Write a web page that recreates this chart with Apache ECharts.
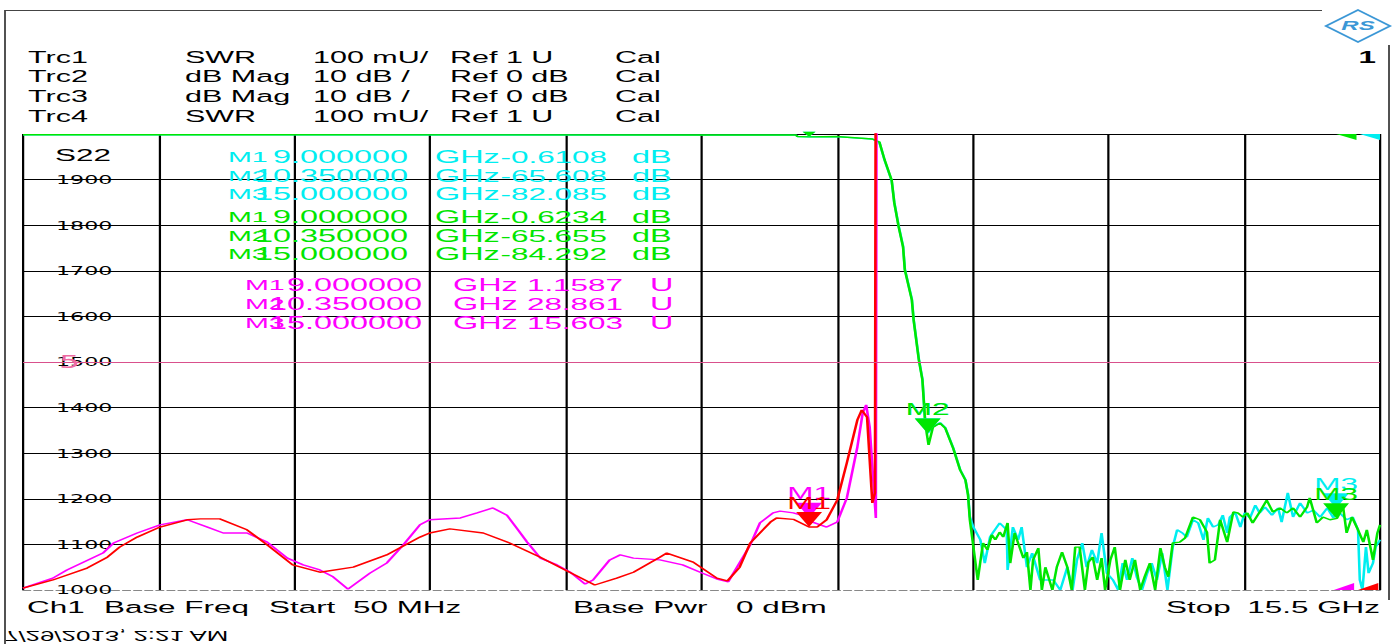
<!DOCTYPE html>
<html>
<head>
<meta charset="utf-8">
<script src="https://cdn.jsdelivr.net/npm/echarts@6/dist/echarts.min.js"></script>
<style>
  html, body { margin: 0; padding: 0; background: #fff; overflow: hidden; }
  /* the analyzer screenshot is stretched sideways, so the chart is drawn narrow and scaled */
  #chart { width: 754px; height: 644px; transform: scaleX(1.84881); transform-origin: 0 0; }
</style>
</head>
<body>
<div id="chart"></div>
<script>
// sweep
var START = 0.05;   // GHz
var STOP = 15.5;    // GHz

// Trc1 (red) SWR
var redFreq = [0.05, 0.39, 0.78, 1.01, 1.15, 1.35, 1.61, 1.92, 2.07, 2.29, 2.60, 2.83, 3.12, 3.43, 3.81, 4.19,
  4.57, 4.68, 4.91, 5.29, 5.59, 5.94, 6.20, 6.56, 6.81, 7.00, 7.30, 7.38, 7.68, 7.95, 8.07, 8.21, 8.33, 8.56,
  8.63, 8.82, 9.00, 9.09, 9.20, 9.32, 9.43, 9.55, 9.60, 9.66, 9.72, 9.75, 9.77, 9.85, 10.35, 11.5, 13.0, 15.0, 15.5];
var redSwr = [1.004, 1.022, 1.048, 1.072, 1.094, 1.116, 1.138, 1.154, 1.156, 1.156, 1.132, 1.099, 1.055, 1.039, 1.050, 1.077,
  1.116, 1.125, 1.134, 1.125, 1.103, 1.072, 1.046, 1.011, 1.026, 1.039, 1.072, 1.081, 1.061, 1.026, 1.020, 1.050, 1.103, 1.149,
  1.158, 1.155, 1.138, 1.138, 1.154, 1.197, 1.279, 1.373, 1.395, 1.379, 1.191, 1.213, 3.5, 12, 27.5, 21, 18, 16.2, 15.5];

// Trc4 (magenta) SWR
var magFreq = [0.05, 0.39, 0.55, 0.96, 1.08, 1.35, 1.61, 1.92, 2.15, 2.33, 2.60, 2.83, 3.06, 3.24, 3.43, 3.58, 3.75,
  4.00, 4.19, 4.38, 4.57, 4.68, 5.03, 5.22, 5.40, 5.56, 5.67, 5.79, 5.94, 6.13, 6.28, 6.45, 6.54, 6.73, 6.85, 7.00,
  7.30, 7.56, 7.76, 7.95, 8.08, 8.33, 8.44, 8.59, 8.67, 8.82, 9.00, 9.04, 9.20, 9.32, 9.43, 9.55, 9.61, 9.65, 9.69,
  9.76, 9.78, 9.85, 10.35, 11.5, 13.0, 15.0, 15.5];
var magSwr = [1.004, 1.026, 1.044, 1.081, 1.103, 1.125, 1.143, 1.154, 1.138, 1.125, 1.125, 1.105, 1.070, 1.055, 1.044, 1.029, 1.002,
  1.037, 1.059, 1.099, 1.143, 1.154, 1.158, 1.169, 1.180, 1.164, 1.136, 1.105, 1.070, 1.055, 1.039, 1.013, 1.022, 1.066, 1.077, 1.070,
  1.066, 1.055, 1.039, 1.024, 1.018, 1.099, 1.147, 1.169, 1.173, 1.169, 1.159, 1.149, 1.138, 1.149, 1.202, 1.314, 1.388, 1.406, 1.357,
  1.158, 3.5, 14, 28.861, 21, 17.5, 15.603, 15.2];

// Trc3 (green) dB Mag
var greenFreq = [0.05, 7.76, 8.85, 8.87, 9.00, 9.31, 9.56, 9.72, 9.80, 9.86, 9.94, 9.97, 10.02, 10.07, 10.09, 10.17, 10.19,
  10.25, 10.29, 10.30, 10.32, 10.34, 10.36, 10.41, 10.49, 10.55, 10.64, 10.72, 10.78, 10.81, 10.83, 10.92, 10.98, 11.03,
  11.08, 11.12, 11.17, 11.21, 11.26, 11.29, 11.34, 11.44, 11.48, 11.52, 11.55, 11.61, 11.65, 11.69, 11.77, 11.82, 11.88,
  11.94, 11.99, 12.03, 12.08, 12.14, 12.18, 12.23, 12.28, 12.33, 12.37, 12.43, 12.48, 12.54, 12.60, 12.65, 12.71, 12.77,
  12.82, 12.88, 12.94, 13.00, 13.05, 13.09, 13.14, 13.22, 13.28, 13.37, 13.45, 13.53, 13.56, 13.62, 13.68, 13.76, 13.83,
  13.88, 13.94, 13.99, 14.05, 14.13, 14.21, 14.28, 14.36, 14.44, 14.51, 14.59, 14.67, 14.70, 14.78, 14.85, 14.93, 15.01,
  15.08, 15.12, 15.18, 15.24, 15.31, 15.35, 15.42, 15.47, 15.5];
var greenDb = [-0.15, -0.22, -0.22, -0.55, -0.62, -0.55, -0.88, -1.1, -1.75, -5.7, -10.1, -15.1, -20.4, -24.8, -29.8, -36.4, -40.8,
  -49.6, -53.9, -56.8, -62.7, -65.7, -68.2, -64.3, -63.4, -64.5, -68.9, -73.7, -75.9, -79.2, -84.6, -97.8, -89.7, -91.2,
  -87.9, -89.0, -87.3, -88.4, -85.3, -94.1, -87.5, -93.0, -91.7, -100, -93.4, -90.8, -100, -95.0, -100, -95.0, -91.7,
  -95.0, -100, -90.6, -90.6, -100, -93.9, -92.8, -97.8, -93.0, -100, -93.4, -90.6, -100, -93.4, -97.8, -93.4, -100,
  -97.1, -94.1, -100, -90.8, -95.0, -97.1, -89.7, -89.5, -88.6, -84.0, -84.6, -87.3, -94.1, -93.4, -84.6, -89.5, -82.9,
  -83.1, -84.0, -83.1, -85.3, -82.9, -80.3, -82.9, -82.0, -83.1, -82.0, -84.0, -81.8, -79.8, -85.3, -84.0, -84.6, -84.3,
  -81.8, -87.5, -84.0, -86.4, -89.5, -86.8, -93.4, -87.5, -85.7];

// Trc2 (cyan) dB Mag
var cyanFreq = [0.05, 7.76, 8.85, 8.87, 9.00, 9.31, 9.56, 9.72, 9.80, 9.86, 9.94, 9.97, 10.02, 10.07, 10.09, 10.17, 10.19,
  10.25, 10.29, 10.30, 10.32, 10.35, 10.41, 10.49, 10.55, 10.64, 10.72, 10.78, 10.81, 10.83, 10.87, 10.95, 11.00, 11.06,
  11.09, 11.17, 11.25, 11.26, 11.32, 11.38, 11.42, 11.48, 11.54, 11.63, 11.71, 11.78, 11.86, 11.94, 12.00, 12.05, 12.11,
  12.16, 12.22, 12.28, 12.33, 12.39, 12.46, 12.52, 12.57, 12.62, 12.68, 12.73, 12.79, 12.85, 12.90, 12.96, 13.02, 13.08,
  13.14, 13.19, 13.25, 13.30, 13.37, 13.43, 13.49, 13.54, 13.60, 13.66, 13.71, 13.76, 13.79, 13.85, 13.91, 13.96, 14.02,
  14.08, 14.13, 14.19, 14.27, 14.34, 14.38, 14.45, 14.51, 14.59, 14.67, 14.74, 14.82, 14.90, 14.97, 15.00, 15.04, 15.12,
  15.19, 15.25, 15.27, 15.30, 15.34, 15.37, 15.42, 15.45, 15.5];
var cyanDb = [-0.15, -0.25, -0.25, -0.55, -0.61, -0.58, -0.9, -1.1, -1.8, -5.8, -10.2, -15.0, -20.2, -24.6, -29.6, -36.2, -40.6,
  -49.4, -53.7, -56.6, -62.5, -65.6, -64.2, -63.3, -64.4, -68.8, -73.6, -75.8, -79.0, -83.9, -86.2, -89.0, -94.1, -88.4,
  -87.5, -85.3, -86.8, -95.6, -86.2, -89.0, -86.2, -95.0, -91.9, -97.8, -97.8, -97.8, -100, -95.0, -100, -93.4, -89.7,
  -95.0, -91.2, -94.1, -87.5, -96.3, -97.8, -100, -94.1, -97.8, -93.0, -97.1, -100, -96.3, -94.1, -97.8, -91.9, -100,
  -90.6, -86.8, -87.5, -88.4, -84.6, -85.3, -89.0, -84.2, -86.2, -85.7, -83.6, -87.5, -84.0, -82.9, -86.2, -83.1, -84.2,
  -81.4, -83.1, -81.8, -83.6, -82.0, -85.1, -78.7, -84.0, -80.9, -83.1, -82.5, -84.0, -82.0, -84.2, -82.1, -83.1, -84.6,
  -84.0, -86.8, -97.8, -100, -90.6, -96.3, -94.1, -90.6, -89.0];

// markers
var markerFreq = [9.0, 10.35, 15.0];
var cyanMarkerDb = [-0.6108, -65.608, -82.085];
var greenMarkerDb = [-0.6234, -65.655, -84.292];
var magMarkerSwr = [1.1587, 28.861, 15.603];
var redMarkerSwr = [1.138];

var headerRows = [
  ['Trc1', 'SWR', '100 mU/', 'Ref 1 U', 'Cal'],
  ['Trc2', 'dB Mag', '10 dB /', 'Ref 0 dB', 'Cal'],
  ['Trc3', 'dB Mag', '10 dB /', 'Ref 0 dB', 'Cal'],
  ['Trc4', 'SWR', '100 mU/', 'Ref 1 U', 'Cal']
];

var RED = '#ff0000', MAG = '#ff00ff', CYAN = '#00eef0', GREEN = '#00e600';
var FONT = '"Liberation Sans", Arial, sans-serif';
var SX = 1394 / 754;
function px(x) { return x / SX; }   // screen x -> unscaled x

function pairs(freqs, vals) {
  return freqs.map(function (f, i) { return [+(f - START).toFixed(4), vals[i]]; });
}

var TRI = 'path://M0,0L10,0L5,10Z';
function markerData(vals, firstSmall) {
  return vals.map(function (v, i) {
    var d = { name: 'M' + (i + 1), coord: [+(markerFreq[i] - START).toFixed(4), v] };
    if (firstSmall && i === 0) {
      d.symbolSize = [7, 5];
      d.symbolOffset = [0, -2.5];
      d.label = { show: false };
    }
    return d;
  });
}
function markPoint(color, data) {
  return {
    silent: true,
    symbol: TRI,
    symbolSize: [14, 15],
    symbolOffset: [0, -7.5],
    symbolKeepAspect: false,
    itemStyle: { color: color },
    label: { show: true, position: 'top', distance: 1, formatter: '{b}', color: color, fontSize: 17, fontFamily: FONT },
    data: data
  };
}
// reference level wedges at the right edge
function refWedge(val, up, offX) {
  return {
    name: '', coord: [+(STOP - START).toFixed(4), val],
    symbol: up ? 'path://M0,0L20,0L20,6Z' : 'path://M0,7L20,0L20,7Z',
    symbolSize: [11, up ? 6 : 7], symbolOffset: [offX, up ? 3 : -3.5],
    label: { show: false }
  };
}

var series = [
  {
    name: 'Trc2', type: 'line', yAxisIndex: 1, data: pairs(cyanFreq, cyanDb),
    showSymbol: false, lineStyle: { color: CYAN, width: 1.4 }, itemStyle: { color: CYAN },
    markPoint: markPoint(CYAN, markerData(cyanMarkerDb, true).concat([refWedge(0, true, -5.5)]))
  },
  {
    name: 'Trc3', type: 'line', yAxisIndex: 1, data: pairs(greenFreq, greenDb),
    showSymbol: false, lineStyle: { color: GREEN, width: 1.4 }, itemStyle: { color: GREEN },
    markPoint: markPoint(GREEN, markerData(greenMarkerDb, true).concat([refWedge(0, true, -18.2)]))
  },
  {
    name: 'Trc4', type: 'line', yAxisIndex: 0, data: pairs(magFreq, magSwr),
    showSymbol: false, lineStyle: { color: MAG, width: 1.4 }, itemStyle: { color: MAG },
    markPoint: markPoint(MAG, markerData(magMarkerSwr.slice(0, 1), false).concat([refWedge(1, false, -19.5)])),
    markLine: {
      silent: true, symbol: 'none',
      label: { show: true, position: 'insideStart', formatter: '5', color: '#ee6aa3', fontSize: 18,
        fontFamily: '"DejaVu Sans", sans-serif', distance: [px(36), -8] },
      lineStyle: { color: '#d9508c', width: 1, type: 'solid' },
      data: [{ yAxis: 1.5 }]
    }
  },
  {
    name: 'Trc1', type: 'line', yAxisIndex: 0, data: pairs(redFreq, redSwr),
    showSymbol: false, lineStyle: { color: RED, width: 1.4 }, itemStyle: { color: RED },
    markPoint: markPoint(RED, markerData(redMarkerSwr, false).concat([refWedge(1, false, -6.4)]))
  }
];

// texts around the plot
var g = [];
function txt(x, y, text, color, size, align, weight) {
  g.push({
    type: 'text', x: px(x), y: y, z: 100, silent: true,
    style: { text: text, fill: color, fontSize: size, fontFamily: FONT, fontWeight: weight || 'normal',
      textAlign: align || 'left', verticalAlign: 'middle' }
  });
}
var hdrX = [28, 185, 313, 450, 615], hdrY = [57, 76, 96, 116];
headerRows.forEach(function (row, r) {
  row.forEach(function (t, c) { txt(hdrX[c], hdrY[r], t, '#000', 16.5); });
});
txt(55, 155, 'S22', '#000', 17);
txt(1376, 57, '1', '#000', 17, 'right', 'bold');

function fmtVal(v) { return v.toFixed(Math.abs(v) < 10 ? 4 : 3); }
function table(vals, color, rowsY, cols, unit) {
  vals.forEach(function (v, i) {
    var y = rowsY[i];
    txt(cols[0], y, 'M' + (i + 1), color, 15.5);
    txt(cols[1], y, markerFreq[i].toFixed(6), color, 17.5, 'right');
    txt(cols[2], y, 'GHz', color, 17.5);
    txt(cols[3], y, fmtVal(v), color, 17, 'right');
    txt(cols[4], y, unit, color, 17.5);
  });
}
table(cyanMarkerDb, CYAN, [157, 176, 194], [228, 408, 435, 607, 632], 'dB');
table(greenMarkerDb, GREEN, [217, 236, 254], [228, 408, 435, 607, 632], 'dB');
table(magMarkerSwr, MAG, [285, 304, 323], [245, 422, 453, 623, 650], 'U');

txt(27, 607, 'Ch1', '#000', 17);
txt(104, 607, 'Base Freq', '#000', 17);
txt(269, 607, 'Start', '#000', 17);
txt(353, 607, '50 MHz', '#000', 17);
txt(573, 607, 'Base Pwr', '#000', 17);
txt(736, 607, '0 dBm', '#000', 17);
txt(1166, 607, 'Stop', '#000', 17);
txt(1380, 607, '15.5 GHz', '#000', 17, 'right');

// mirrored time stamp at the bottom
g.push({
  type: 'text', x: px(4), y: 636, scaleY: -1, z: 100, silent: true,
  style: { text: '7/29/2013, 2:21 AM', fill: '#000', fontSize: 14, fontFamily: FONT, verticalAlign: 'middle' }
});

// frame
function ln(x1, y1, x2, y2) {
  g.push({ type: 'line', z: 100, silent: true, shape: { x1: px(x1), y1: y1, x2: px(x2), y2: y2 },
    style: { stroke: '#444', lineWidth: 1 } });
}
ln(5, 10.5, 1322, 10.5);
ln(5, 10, 5, 644);
ln(1389, 45, 1389, 600);

// logo
g.push({ type: 'polygon', z: 100, silent: true,
  shape: { points: [[px(1358), 10], [px(1390), 26], [px(1358), 42], [px(1326), 26]] },
  style: { fill: '#fff', stroke: '#3b97d6', lineWidth: 1.5 } });
g.push({ type: 'text', x: px(1358), y: 26, z: 101, silent: true,
  style: { text: 'RS', fill: '#3b97d6', fontSize: 13, fontWeight: 'bold', fontStyle: 'italic', fontFamily: FONT,
    textAlign: 'center', verticalAlign: 'middle' } });

var chart = echarts.init(document.getElementById('chart'), null, { renderer: 'svg' });
chart.setOption({
  animation: false,
  backgroundColor: '#fff',
  grid: { left: px(23), right: 754 - px(1380), top: 134, bottom: 644 - 590 },
  xAxis: {
    type: 'value', min: 0, max: +(STOP - START).toFixed(4), interval: 1.545,
    axisLabel: { show: false }, axisTick: { show: false },
    axisLine: { show: true, onZero: false, lineStyle: { color: '#888', type: 'dashed', width: 1 } },
    splitLine: { show: true, lineStyle: { color: '#000', width: 1.2 } }
  },
  yAxis: [
    {
      type: 'value', min: 1, max: 2, interval: 0.1, position: 'left',
      axisLine: { show: false }, axisTick: { show: false },
      axisLabel: {
        inside: true, margin: px(56 - 23), showMaxLabel: false, color: '#000', fontSize: 12,
        fontFamily: '"DejaVu Sans", sans-serif', padding: [4, 0, 0, 0],
        formatter: function (v) { return Math.round(v * 1000); }
      },
      splitLine: { show: true, showMinLine: false, lineStyle: { color: '#000', width: 1.2 } }
    },
    { type: 'value', min: -100, max: 0, interval: 10, show: false, splitLine: { show: false } }
  ],
  graphic: g,
  series: series
});
</script>
</body>
</html>
